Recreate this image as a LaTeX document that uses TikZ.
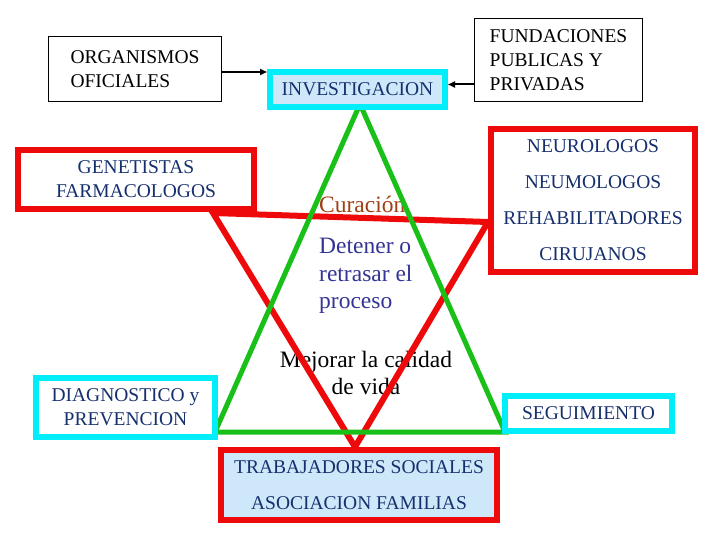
\documentclass[tikz,border=0pt]{standalone}
\usepackage{xcolor}
\usepackage{fontspec}
\setmainfont{Liberation Serif}
\newfontfamily\timesfont{Liberation Serif}
\usetikzlibrary{arrows.meta}

\definecolor{boxred}{RGB}{238,10,10}
\definecolor{boxcyan}{RGB}{0,238,250}
\definecolor{boxfill}{RGB}{206,232,250}
\definecolor{trigreen}{RGB}{24,192,24}
\definecolor{navytext}{RGB}{22,48,110}
\definecolor{curtext}{RGB}{160,62,20}
\definecolor{dettext}{RGB}{52,52,150}

\tikzset{
    plainbox/.style={draw=black, line width=1pt, fill=white, align=left, font=\timesfont\fontsize{19.5}{24}\selectfont},
    redbox/.style={draw=boxred, line width=6pt, fill=white, align=center, text=navytext},
    cyanbox/.style={draw=boxcyan, line width=6pt, fill=white, align=center, text=navytext},
    boxtext/.style={font=\timesfont\fontsize{19.5}{24}\selectfont},
    widetext/.style={font=\timesfont\fontsize{19.5}{36}\selectfont},
    midtext/.style={inner sep=0pt, font=\timesfont\fontsize{23.5}{27.5}\selectfont},
}

\begin{document}
\begin{tikzpicture}[x=1pt, y=-1pt, >={Triangle[length=7pt, width=6pt]}]
    \useasboundingbox (0, 0) rectangle (720, 540);

    \node[midtext, anchor=base west, text=curtext] at (319, 212) (cur) {Curación};
    \node[midtext, anchor=west, align=left, text=dettext] at (319, 276) (det) {Detener o\\retrasar el\\proceso};
    \node[midtext, align=center, text=black] at (366, 373) (mej) {Mejorar la calidad\\de vida};

    \coordinate (r1) at (213, 213);
    \coordinate (r2) at (488, 222);
    \coordinate (r3) at (355, 447);
    \draw[boxred, line width=6pt] (r1) -- (r2) -- (r3) -- cycle;

    \coordinate (g1) at (360, 104);
    \coordinate (g2) at (215, 432);
    \coordinate (g3) at (505, 432);
    \draw[trigreen, line width=5pt] (g1) -- (g2) -- (g3) -- cycle;

    \node[plainbox, minimum width=173pt, minimum height=65pt] at (135, 69) (org) {ORGANISMOS\\OFICIALES};
    \node[plainbox, minimum width=168pt, minimum height=83pt] at (558.5, 60) (fund) {FUNDACIONES\\PUBLICAS Y\\PRIVADAS};
    \node[cyanbox, boxtext, fill=boxfill, minimum width=175pt, minimum height=35pt] at (357.5, 89.5) (inv) {INVESTIGACION};

    \node[redbox, boxtext, minimum width=236pt, minimum height=59pt] at (136, 179.5) (gen) {GENETISTAS\\FARMACOLOGOS};
    \node[redbox, widetext, minimum width=204pt, minimum height=143pt] at (593, 200.5) (neu) {NEUROLOGOS\\NEUMOLOGOS\\REHABILITADORES\\CIRUJANOS};

    \node[cyanbox, boxtext, minimum width=179pt, minimum height=59pt] at (125.5, 407.5) (diag) {DIAGNOSTICO y\\PREVENCION};
    \node[cyanbox, boxtext, minimum width=167pt, minimum height=35pt] at (588.5, 413.5) (seg) {SEGUIMIENTO};
    \node[redbox, widetext, fill=boxfill, minimum width=276pt, minimum height=70pt] at (359, 485) (trab) {TRABAJADORES SOCIALES\\ASOCIACION FAMILIAS};

    \draw[->, line width=2pt] ([yshift=-3pt]org.east) -- ([yshift=-3pt]org.east -| inv.west);
    \draw[->, line width=2pt] ([yshift=5pt]inv.east -| fund.west) -- ([yshift=5pt]inv.east);
\end{tikzpicture}
\end{document}
